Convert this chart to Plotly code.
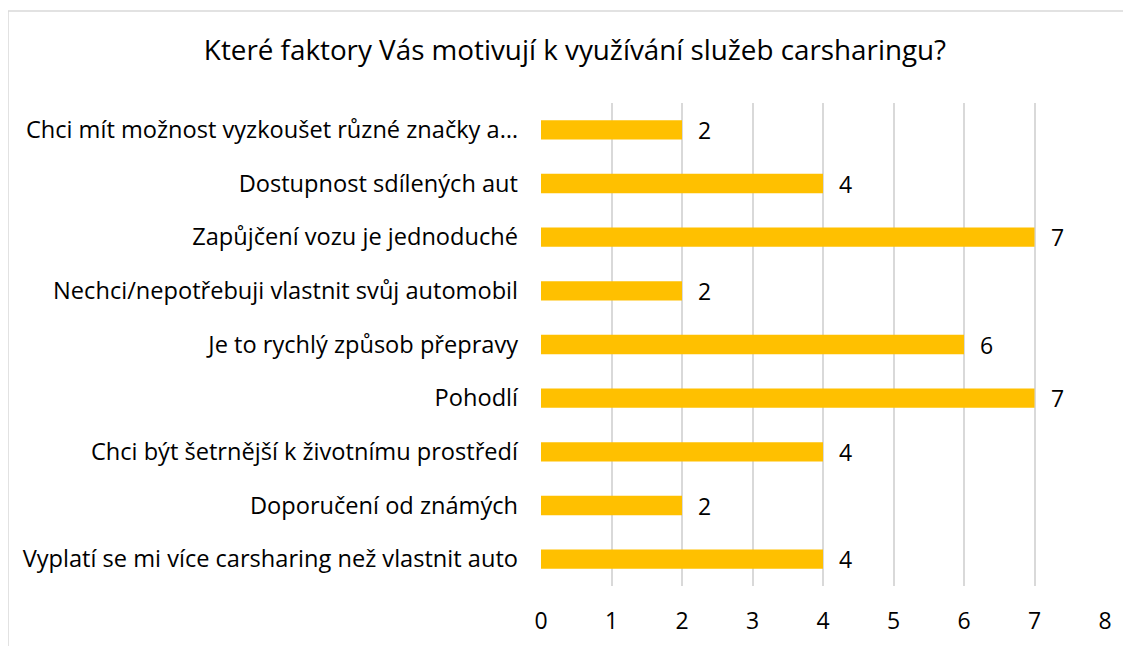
import plotly.graph_objects as go

categories = [
    "Chci mít možnost vyzkoušet různé značky a…",
    "Dostupnost sdílených aut",
    "Zapůjčení vozu je jednoduché",
    "Nechci/nepotřebuji vlastnit svůj automobil",
    "Je to rychlý způsob přepravy",
    "Pohodlí",
    "Chci být šetrnější k životnímu prostředí",
    "Doporučení od známých",
    "Vyplatí se mi více carsharing než vlastnit auto",
]
values = [2, 4, 7, 2, 6, 7, 4, 2, 4]
x_ticks = [0, 1, 2, 3, 4, 5, 6, 7, 8]
title_text = "Které faktory Vás motivují k využívání služeb carsharingu?"

FONT = "Open Sans"
OFF = 8  # page body margin
W, H = 1131, 646
L, T = 541 - OFF, 103 - OFF
R = W - 1105 + OFF
B = H - 586 + OFF
pw, ph = W - L - R, H - T - B

def px_x(px):
    return (px - OFF - L) / pw

def px_y(py):
    return (H - B - (py - OFF)) / ph

fig = go.Figure(go.Bar(
    x=values, y=categories, orientation="h",
    marker=dict(color="#FFC000", line=dict(width=0)),
    width=0.36,
    cliponaxis=False,
))

for c, v in zip(categories, values):
    fig.add_annotation(x=v, y=c, text=str(v), showarrow=False, xanchor="left",
                       xshift=14, font=dict(family=FONT, size=23, color="#000000"))

border = "#D9D9D9"
fig.update_layout(
    width=W, height=H,
    margin=dict(l=L, r=R, t=T, b=B, pad=0, autoexpand=False),
    paper_bgcolor="white", plot_bgcolor="white",
    title=dict(text=title_text, x=(575 - OFF) / W, xref="container", xanchor="center",
               y=1 - (50 - OFF) / H, yanchor="middle",
               font=dict(family=FONT, size=27.8, color="#000000")),
    font=dict(family=FONT, size=23, color="#000000"),
    showlegend=False,
    xaxis=dict(range=[0, 8], tickvals=x_ticks, showgrid=True, gridcolor="#D9D9D9",
               gridwidth=1.5, zeroline=False, showline=False, ticks="",
               tickfont=dict(family=FONT, size=23, color="#000000"),
               ticklabelstandoff=19),
    yaxis=dict(autorange="reversed", showgrid=False, zeroline=False, showline=False,
               ticks="", ticklabelstandoff=22,
               tickfont=dict(family=FONT, size=23.6, color="#000000")),
    shapes=[
        dict(type="line", xref="paper", yref="paper",
             x0=px_x(8), x1=px_x(8), y0=px_y(H + 20), y1=px_y(11),
             line=dict(color=border, width=1.5)),
        dict(type="line", xref="paper", yref="paper",
             x0=px_x(8), x1=px_x(W + 20), y0=px_y(11), y1=px_y(11),
             line=dict(color=border, width=1.5)),
    ],
)
fig.write_html("out.html")
